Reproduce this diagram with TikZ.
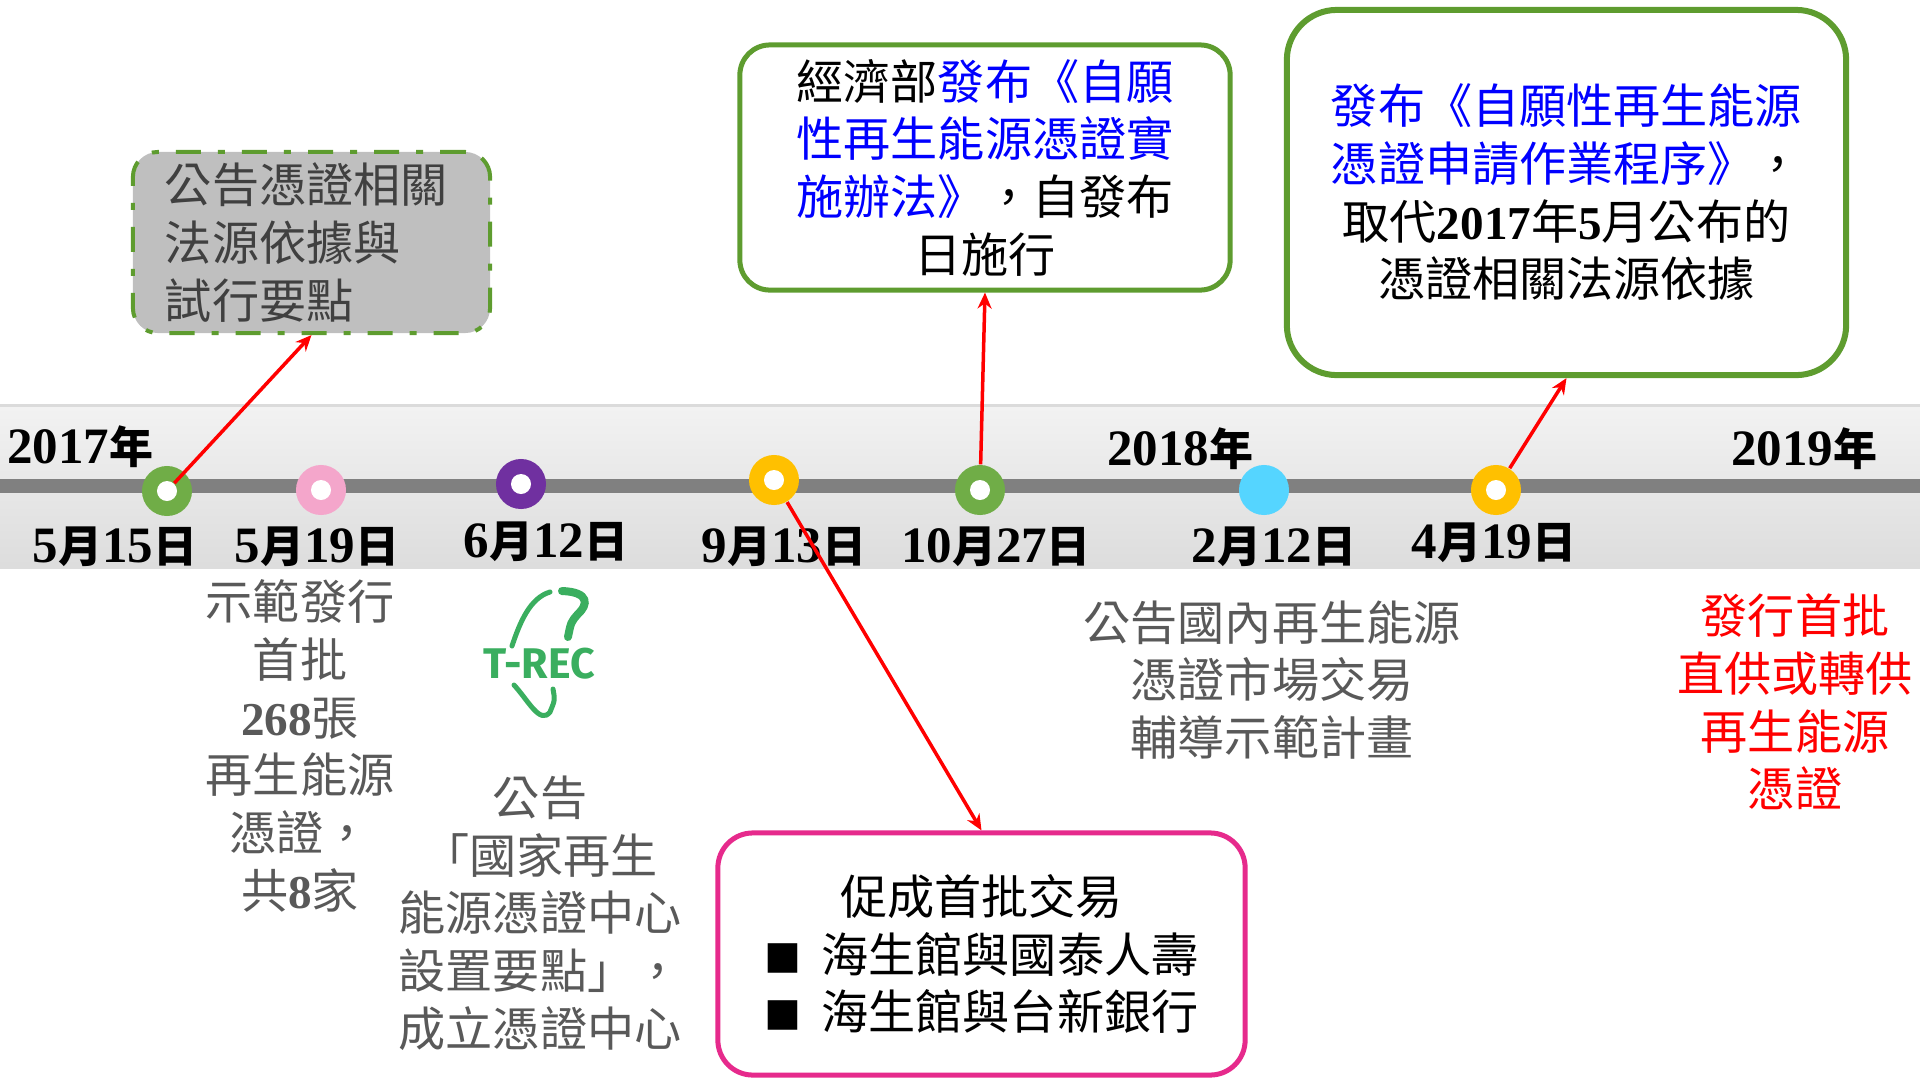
\documentclass[tikz,border=0pt]{standalone}
\usepackage{fontspec}
\setmainfont{Liberation Serif}
\newfontfamily\cjk{Noto Sans CJK TC}
\newfontfamily\logofont{Fira Sans}
\usetikzlibrary{arrows.meta,positioning}

\definecolor{cGreen}{HTML}{70AD47}
\definecolor{cBorder}{HTML}{5E9C2F}
\definecolor{cPink}{HTML}{F4A6CB}
\definecolor{cPurple}{HTML}{7030A0}
\definecolor{cYellow}{HTML}{FFC000}
\definecolor{cCyan}{HTML}{55D5FF}
\definecolor{cMagenta}{HTML}{E62A8C}
\definecolor{cLogo}{HTML}{3AAE5F}
\definecolor{cTxtGray}{HTML}{595959}
\definecolor{cTxtDark}{HTML}{404040}
\definecolor{cBoxGray}{HTML}{BFBFBF}
\definecolor{cRail}{HTML}{808080}
\definecolor{cBlue}{HTML}{0000FF}

\newcommand{\nm}[1]{{\rmfamily\bfseries #1}}
\newcommand{\dg}[1]{{\rmfamily\bfseries\fontsize{14.5}{16}\selectfont #1}}
\newcommand{\bl}[1]{\textcolor{cBlue}{#1}}
\newcommand{\sq}{{\fontsize{10.5}{16}\selectfont ■}\hspace{0.2cm}}

\begin{document}
\begin{tikzpicture}[
  x=0.01cm, y=-0.01cm,
  txt/.style={font=\cjk\fontsize{13.4}{16.4}\selectfont, align=center, inner sep=0},
  datelbl/.style={font=\cjk\bfseries\fontsize{12.5}{16}\selectfont, inner sep=0},
  ring/.style={circle, fill=#1, minimum size=0.5cm, inner sep=0},
  hole/.style={circle, fill=white, minimum size=0.2cm, inner sep=0},
  gbox/.style={txt, draw=cBorder, fill=white, line width=0.05cm, rounded corners=0.3cm},
  arr/.style={-{Stealth[length=0.16cm, width=0.14cm]}, red, line width=0.035cm}
]
  \useasboundingbox (0,0) rectangle (1920,1078);

  % timeline band
  \shade[top color=gray!10, bottom color=gray!27] (0,405) rectangle (1920,568);
  \draw[gray!28, line width=0.03cm] (0,405) -- (1920,405);
  \draw[cRail, line width=0.14cm] (0,486) -- (1920,486);

  % markers
  \node[ring=cGreen] (m1) at (167,491) {};
  \node[hole] (h1) at (m1) {};
  \node[ring=cPink] (m2) at (321,490) {};
  \node[hole] (h2) at (m2) {};
  \node[ring=cPurple] (m3) at (521,484) {};
  \node[hole] (h3) at (m3) {};
  \node[ring=cYellow] (m4) at (774,480) {};
  \node[hole] (h4) at (m4) {};
  \node[ring=cGreen] (m5) at (980,490) {};
  \node[hole] (h5) at (m5) {};
  \node[ring=cCyan] (m6) at (1264,490) {};
  \node[ring=cYellow] (m7) at (1496,490) {};
  \node[hole] (h7) at (m7) {};

  % years and dates
  \node[datelbl] (y17) at (80,447) {\dg{2017}年};
  \node[datelbl] (y18) at (1180,449) {\dg{2018}年};
  \node[datelbl] (y19) at (1804,449) {\dg{2019}年};
  \node[datelbl] (d1) at (115,547) {\dg{5}月\dg{15}日};
  \node[datelbl] (d2) at (317,547) {\dg{5}月\dg{19}日};
  \node[datelbl] (d3) at (546,542) {\dg{6}月\dg{12}日};
  \node[datelbl] (d4) at (784,547) {\dg{9}月\dg{13}日};
  \node[datelbl] (d5) at (996,547) {\dg{10}月\dg{27}日};
  \node[datelbl] (d6) at (1274,547) {\dg{2}月\dg{12}日};
  \node[datelbl] (d7) at (1494,543) {\dg{4}月\dg{19}日};

  % texts under the band
  \node[txt, text=cTxtGray] (t2) at (300,746) {示範發行\\首批\\\nm{268}張\\再生能源\\憑證，\\共\nm{8}家};
  \node[txt, text=cTxtGray] (t3) at (540,913) {公告\\「國家再生\\能源憑證中心\\設置要點」，\\成立憑證中心};
  \node[txt, text=cTxtGray] (t6) at (1272,680) {公告國內再生能源\\憑證市場交易\\輔導示範計畫};
  \node[txt, text=red] (t8) at (1795,702) {發行首批\\直供或轉供\\再生能源\\憑證};

  % T-REC logo
  \node[font=\logofont\bfseries\fontsize{12.2}{12}\selectfont, text=cLogo, inner sep=0] (logo) at (539,664) {T-REC};
  \draw[cLogo, line width=0.05cm, line cap=round] (512,646) .. controls (520,622) and (530,598) .. (550,592);
  \draw[cLogo, line width=0.08cm, line cap=round] (562,591) .. controls (590,592) and (588,605) .. (578,614) .. controls (571,622) .. (568,637);
  \draw[cLogo, line width=0.05cm, line cap=round] (514,685) .. controls (528,700) and (540,725) .. (550,712) .. controls (555,700) .. (553,689);

  % boxes
  \node[txt, draw=cBorder, fill=cBoxGray, text=cTxtDark, line width=0.04cm,
    dash pattern=on 0.25cm off 0.17cm on 0.07cm off 0.17cm, rounded corners=0.25cm,
    minimum width=3.57cm, minimum height=1.81cm, text width=2.93cm, align=left]
    (b1) at (311.5,242.5) {公告憑證相關\\法源依據與\\試行要點};
  \node[gbox, minimum width=4.9cm, minimum height=2.45cm] (b2) at (985,167.5)
    {\rule{0pt}{0.1cm}經濟部\bl{發布《自願}\\\bl{性再生能源憑證實}\\\bl{施辦法》}，自發布\\日施行};
  \node[gbox, line width=0.06cm, rounded corners=0.5cm, minimum width=5.59cm,
    minimum height=3.65cm] (b3) at (1566.5,192.5)
    {\bl{發布《自願性再生能源}\\\bl{憑證申請作業程序》}，\\取代\nm{2017}年\nm{5}月公布的\\憑證相關法源依據};
  \node[txt, draw=cMagenta, fill=white, line width=0.05cm, rounded corners=0.35cm,
    minimum width=5.27cm, minimum height=2.42cm] (b4) at (981.5,954)
    {促成首批交易\\\sq 海生館與國泰人壽\\\sq 海生館與台新銀行};

  % arrows
  \draw[arr] (h1) -- (b1.south);
  \draw[arr] (m5) -- (b2.south);
  \draw[arr] (m4) -- (b4.north);
  \draw[arr] (m7) -- (b3.south);
\end{tikzpicture}
\end{document}
